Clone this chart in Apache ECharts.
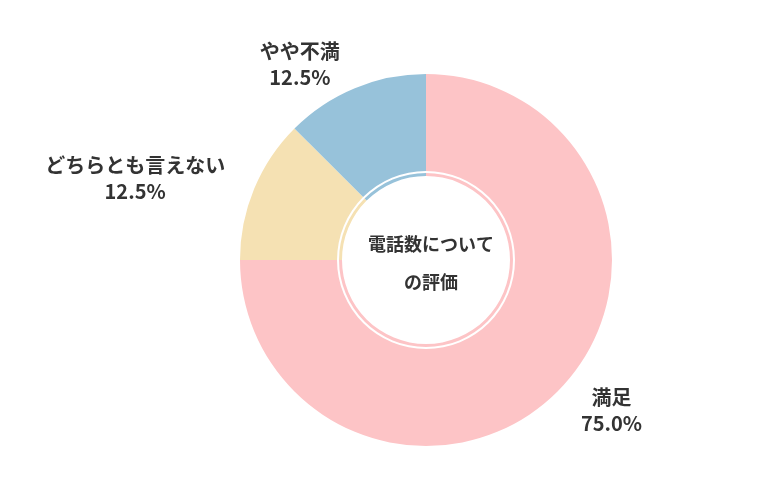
<!DOCTYPE html>
<html><head><meta charset="utf-8">
<script src="https://cdn.jsdelivr.net/npm/echarts@6/dist/echarts.min.js"></script>
</head><body style="margin:0">
<div id="main" style="width:780px;height:500px"></div>
<script>
var names = ['満足', 'どちらとも言えない', 'やや不満'];
var values = [75.0, 12.5, 12.5];
var colors = ['#fdc4c6', '#f5e1b3', '#97c2da'];

var myChart = echarts.init(document.getElementById('main'));
var data = [];
for (var i = 0; i < names.length; i++) {
	data.push({name: names[i], value: values[i], itemStyle: {color: colors[i]}});
}
var option = {
	textStyle: {fontFamily: 'Noto Sans CJK JP'},
	title: {
		text: '電話数について\nの評価',
		left: 426, top: 258, textAlign: 'center', textVerticalAlign: 'middle',
		textStyle: {fontSize: 18, fontWeight: 'bold', color: '#333', lineHeight: 38, fontFamily: 'Noto Sans CJK JP'}
	},
	series: [
		{
			type: 'pie',
			center: [426, 260],
			radius: [84, 186],
			startAngle: 90,
			data: data,
			label: {
				position: 'outside',
				formatter: function (p) { return '{c|' + p.name + '}\n{c|' + p.value.toFixed(1) + '%}'; },
				rich: {c: {fontSize: 20, fontWeight: 'bold', color: '#333', lineHeight: 26, align: 'center', fontFamily: 'Noto Sans CJK JP'}},
				fontSize: 20, fontWeight: 'bold', color: '#333'
			},
			labelLine: {show: false, length: 26, length2: 0},
			emphasis: {disabled: true}
		},
		{
			type: 'pie',
			center: [426, 260],
			radius: [87, 89],
			silent: true,
			data: [{value: 1, itemStyle: {color: '#fff'}}],
			label: {show: false},
			labelLine: {show: false}
		}
	]
};
myChart.setOption(option);
</script>
</body></html>
